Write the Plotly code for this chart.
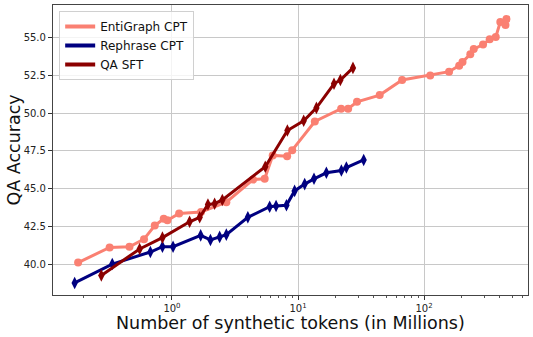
import numpy as np
import plotly.graph_objects as go

# EntiGraph CPT
enti_x = [0.18, 0.32, 0.46, 0.6, 0.73, 0.86, 0.92, 1.14, 1.7, 2.7, 4.4, 5.44, 6.3, 8.2, 9.0,
          13.6, 22, 25, 29.4, 44.5, 67, 112, 158, 190, 202, 233, 248, 294, 332, 371, 403, 443, 451]
enti_y = [40.1, 41.1, 41.15, 41.65, 42.55, 43.0, 42.9, 43.35, 43.45, 44.1, 45.6, 45.65, 47.2, 47.15, 47.55,
          49.45, 50.3, 50.3, 50.75, 51.2, 52.2, 52.5, 52.75, 53.15, 53.4, 53.9, 54.25, 54.55, 54.9, 55.05, 56.05, 55.85, 56.25]

# Rephrase CPT
reph_x = [0.169, 0.336, 0.674, 0.84, 1.02, 1.69, 2.02, 2.39, 2.7, 4.0, 5.96, 6.7, 8.1,
          9.4, 11.3, 13.4, 16.8, 22.1, 24.2, 33.2]
reph_y = [38.75, 40.0, 40.8, 41.15, 41.15, 41.9, 41.6, 41.8, 41.95, 43.1, 43.8, 43.85, 43.9,
          44.85, 45.3, 45.65, 46.05, 46.2, 46.4, 46.9]

# QA SFT
qa_x = [0.275, 0.554, 0.84, 1.38, 1.66, 1.93, 2.18, 2.51, 5.5, 8.24, 11.1, 14.0, 19.3, 21.7, 27.3]
qa_y = [39.25, 41.0, 41.75, 42.8, 43.1, 43.95, 44.0, 44.25, 46.45, 48.85, 49.5, 50.35, 51.95, 52.2, 53.0]

series = [
    ("EntiGraph CPT", enti_x, enti_y, "salmon", "circle", 8),
    ("Rephrase CPT", reph_x, reph_y, "navy", "diamond-tall", 9),
    ("QA SFT", qa_x, qa_y, "darkred", "diamond-tall", 9),
]

fig = go.Figure()
for name, xs, ys, color, sym, size in series:
    fig.add_trace(go.Scatter(x=xs, y=ys, mode="lines+markers", name=name, showlegend=False,
                             line=dict(color=color, width=3),
                             marker=dict(symbol=sym, size=size, color=color)))
# legend shows lines only, like the original
for name, xs, ys, color, sym, size in series:
    fig.add_trace(go.Scatter(x=[None], y=[None], mode="lines", name=name,
                             line=dict(color=color, width=4)))

minor_vals = [m * 10.0 ** e for e in range(-1, 3) for m in range(2, 10)]

fig.update_xaxes(type="log", range=[-0.944, 2.825],
                 tickvals=[1, 10, 100], ticktext=["10<sup>0</sup>", "10<sup>1</sup>", "10<sup>2</sup>"],
                 ticks="outside", ticklen=4, tickcolor="#333", tickfont=dict(size=10, color="#222"),
                 showgrid=True, gridcolor="#c8c8c8", gridwidth=1,
                 minor=dict(tickvals=minor_vals, ticks="outside", ticklen=2, tickcolor="#555", showgrid=False),
                 showline=True, linecolor="#444", linewidth=1.2, mirror=True, zeroline=False)
fig.update_yaxes(range=[37.95, 57.17], dtick=2.5, tick0=40, tickformat=".1f",
                 ticks="outside", ticklen=4, tickcolor="#333", tickfont=dict(size=10, color="#222"),
                 showgrid=True, gridcolor="#c8c8c8", gridwidth=1,
                 showline=True, linecolor="#444", linewidth=1.2, mirror=True, zeroline=False)

# axis titles as annotations so they sit where matplotlib put them
fig.add_annotation(text="Number of synthetic tokens (in Millions)", xref="paper", yref="paper",
                   x=0.5, y=-0.095, xanchor="center", yanchor="middle", showarrow=False,
                   font=dict(size=17.5, color="#111"))
fig.add_annotation(text="QA Accuracy", xref="paper", yref="paper", textangle=-90,
                   x=-0.083, y=0.5, xanchor="center", yanchor="middle", showarrow=False,
                   font=dict(size=17.5, color="#111"))

fig.update_layout(width=533, height=337, margin=dict(l=53, r=5, t=5, b=42),
                  paper_bgcolor="white", plot_bgcolor="white",
                  font=dict(family="DejaVu Sans"),
                  legend=dict(x=0.013, y=0.979, xanchor="left", yanchor="top",
                              bgcolor="rgba(255,255,255,0.8)", bordercolor="#d0d0d0", borderwidth=1,
                              font=dict(size=12, color="#111"), itemwidth=30, tracegroupgap=0))

# drop the page's default body margin so the figure sits at the window's corner
fig.write_html("out.html", config={"displayModeBar": False},
               post_script="document.body.style.margin='0';")
